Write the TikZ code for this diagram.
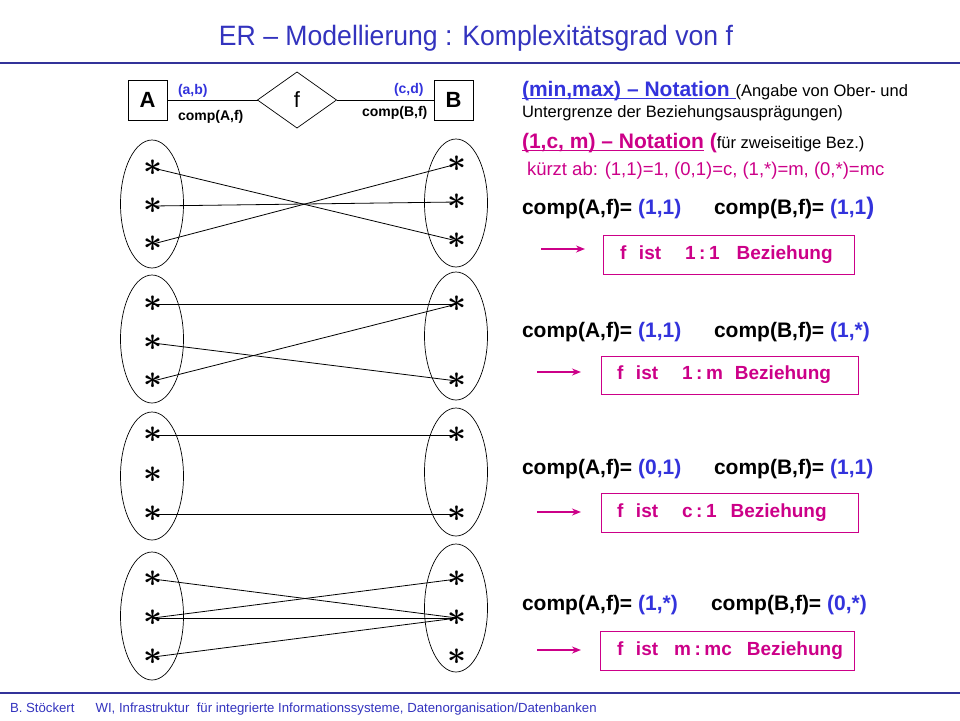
\documentclass[tikz,border=0pt]{standalone}
\usepackage{fontspec}
\setmainfont{Liberation Sans}
\usetikzlibrary{shapes.geometric,arrows.meta}
\definecolor{ttlblue}{RGB}{51,51,190}
\definecolor{rulblue}{RGB}{51,51,153}
\definecolor{valblue}{RGB}{51,51,220}
\definecolor{mag}{RGB}{204,0,136}
\newcommand{\fs}[1]{\fontsize{#1}{#1}\selectfont}
\newcommand{\myul}[1]{\setbox0\hbox{#1}\rlap{\rule[-3pt]{\wd0}{1.3pt}}\box0}
\newcommand{\rc}{\hspace{3.5pt}:\hspace{3.5pt}}
\tikzset{
  x=1pt, y=-1pt,
  every node/.style={inner sep=0pt, outer sep=0pt},
  ent/.style={draw, line width=1pt, minimum width=39pt, minimum height=40pt, font=\fs{22}\bfseries},
  rel/.style={draw, diamond, aspect=1.41, line width=0.7pt, minimum width=79pt, minimum height=56pt, font=\fs{22}},
  setell/.style={draw, ellipse, line width=0.7pt, minimum width=63pt, minimum height=128pt},
  starn/.style={font=\fs{10}\boldmath, scale=3.3},
  lnk/.style={line width=0.8pt},
  txt/.style={anchor=base west},
  cmp/.style={anchor=base west, font=\fs{21}\bfseries},
  res/.style={draw=mag, line width=0.8pt, anchor=north west, text=mag, font=\fs{19}\bfseries, text width=#1, inner xsep=0pt, align=left},
  marr/.style={draw=mag, line width=2.5pt, -{Stealth[length=9pt,width=7pt]}}
}
\begin{document}
\begin{tikzpicture}
\useasboundingbox (0,0) rectangle (960,720);
% title
\node[anchor=base, text=ttlblue, font=\fs{28}] (title) at (476,45) {\scalebox{0.95}[1]{ER – Modellierung : Komplexitätsgrad von f}};
\draw[rulblue, line width=2.5pt] (0,63) -- (960,63);
% footer
\draw[rulblue, line width=2pt] (0,693) -- (960,693);
\node[txt, text=ttlblue, font=\fs{13.2}] (foot) at (10,712) {B. Stöckert\hspace{21pt}WI, Infrastruktur\ \ für integrierte Informationssysteme, Datenorganisation/Datenbanken};

% ER diagram
\node[ent] (A) at (147.5,100) {A};
\node[ent] (B) at (453.5,100) {B};
\node[rel] (f) at (297,100) {f};
\draw[line width=0.7pt] (A) -- (f);
\draw[line width=0.7pt] (f) -- (B);
\node[txt, text=valblue, font=\fs{14}\bfseries] (ab) at (178,94) {(a,b)};
\node[txt, font=\fs{14}\bfseries] (compA) at (178,120) {comp(A,f)};
\node[txt, text=valblue, font=\fs{14}\bfseries] (cd) at (394,93) {(c,d)};
\node[txt, font=\fs{14}\bfseries] (compB) at (362,116) {comp(B,f)};

% ---- group 1
\node[setell] (L1) at (152,204) {};
\node[setell] (R1) at (456,203) {};
\node[starn] (a11) at (153,168) {$\ast$};
\node[starn] (a12) at (153,206) {$\ast$};
\node[starn] (a13) at (153,244) {$\ast$};
\node[starn] (b11) at (457,164) {$\ast$};
\node[starn] (b12) at (457,202) {$\ast$};
\node[starn] (b13) at (457,241) {$\ast$};
\draw[lnk] (a11.center) -- (b13.center);
\draw[lnk] (a12.center) -- (b12.center);
\draw[lnk] (a13.center) -- (b11.center);

% ---- group 2
\node[setell] (L2) at (152,339) {};
\node[setell] (R2) at (456,336) {};
\node[starn] (a21) at (153,304) {$\ast$};
\node[starn] (a22) at (153,343) {$\ast$};
\node[starn] (a23) at (153,381) {$\ast$};
\node[starn] (b21) at (457,304) {$\ast$};
\node[starn] (b22) at (457,381) {$\ast$};
\draw[lnk] (a21.center) -- (b21.center);
\draw[lnk] (a23.center) -- (b21.center);
\draw[lnk] (a22.center) -- (b22.center);

% ---- group 3
\node[setell] (L3) at (152,476) {};
\node[setell] (R3) at (456,472) {};
\node[starn] (a31) at (153,435) {$\ast$};
\node[starn] (a32) at (153,475) {$\ast$};
\node[starn] (a33) at (153,514) {$\ast$};
\node[starn] (b31) at (457,435) {$\ast$};
\node[starn] (b32) at (457,514) {$\ast$};
\draw[lnk] (a31.center) -- (b31.center);
\draw[lnk] (a33.center) -- (b32.center);

% ---- group 4
\node[setell] (L4) at (152,616) {};
\node[setell] (R4) at (456,608) {};
\node[starn] (a41) at (153,579) {$\ast$};
\node[starn] (a42) at (153,618) {$\ast$};
\node[starn] (a43) at (153,657) {$\ast$};
\node[starn] (b41) at (457,579) {$\ast$};
\node[starn] (b42) at (457,618) {$\ast$};
\node[starn] (b43) at (457,657) {$\ast$};
\draw[lnk] (a41.center) -- (b42.center);
\draw[lnk] (a42.center) -- (b41.center);
\draw[lnk] (a42.center) -- (b42.center);
\draw[lnk] (a43.center) -- (b42.center);

% ---- right-hand texts
\node[txt, font=\fs{16.5}] (mm) at (522,96) {{\fs{21}\bfseries\color{valblue}\myul{(min,max) – Notation\ }}(Angabe von Ober- und};
\node[txt, font=\fs{16.5}] (mm2) at (522,117) {Untergrenze der Beziehungsausprägungen)};
\node[txt, font=\fs{16.5}] (cm) at (522,148) {{\fs{21}\bfseries\color{mag}\myul{(1,c, m) – Notation}\ (}für zweiseitige Bez.)};
\node[txt, font=\fs{18.5}, text=mag] (kz) at (527,175) {kürzt ab: (1,1)=1, (0,1)=c, (1,*)=m, (0,*)=mc};

\node[cmp] (c1a) at (522,214) {comp(A,f)= {\color{valblue}(1,1)}};
\node[cmp] (c1b) at (714,214) {comp(B,f)= {\color{valblue}(1,1\fs{24})}};
\coordinate (s1) at (541,249);
\node[res=251pt, minimum height=39pt] (r1) at (603,235) {\hspace{17pt}f\ \ ist\hspace{24pt}1\rc1\hspace{17pt}Beziehung};
\draw[marr] (s1) -- ++(44,0) coordinate (e1);

\node[cmp] (c2a) at (522,337) {comp(A,f)= {\color{valblue}(1,1)}};
\node[cmp] (c2b) at (714,337) {comp(B,f)= {\color{valblue}(1,*)}};
\coordinate (s2) at (537,372);
\node[res=257pt, minimum height=38pt] (r2) at (601,356) {\hspace{16pt}f\ \ ist\hspace{24pt}1\rc m\hspace{12pt}Beziehung};
\draw[marr] (s2) -- ++(44,0) coordinate (e2);

\node[cmp] (c3a) at (522,474) {comp(A,f)= {\color{valblue}(0,1)}};
\node[cmp] (c3b) at (714,474) {comp(B,f)= {\color{valblue}(1,1)}};
\coordinate (s3) at (537,512);
\node[res=257pt, minimum height=39pt] (r3) at (601,493) {\hspace{16pt}f\ \ ist\hspace{24pt}c\rc1\hspace{14pt}Beziehung};
\draw[marr] (s3) -- ++(44,0) coordinate (e3);

\node[cmp] (c4a) at (522,610) {comp(A,f)= {\color{valblue}(1,*)}};
\node[cmp] (c4b) at (711,610) {comp(B,f)= {\color{valblue}(0,*)}};
\coordinate (s4) at (537,650);
\node[res=254pt, minimum height=39pt] (r4) at (600,631) {\hspace{17pt}f\ \ ist\hspace{16pt}m\rc mc\hspace{15pt}Beziehung};
\draw[marr] (s4) -- ++(44,0) coordinate (e4);
\end{tikzpicture}
\end{document}
